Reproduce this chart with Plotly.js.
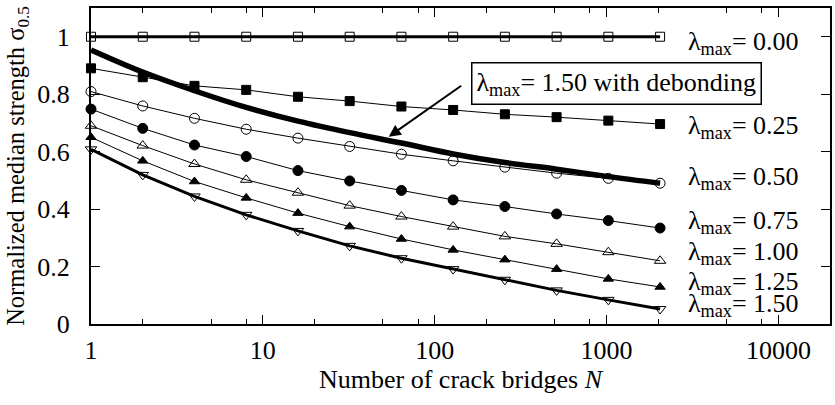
<!DOCTYPE html>
<html>
<head>
<meta charset="utf-8">
<script src="https://cdn.plot.ly/plotly-3.0.1.min.js"></script>
<style>html,body{margin:0;padding:0;background:#fff;}#chart{width:835px;height:405px;}</style>
</head>
<body>
<div id="chart"></div>
<script>
var bridges = [1, 2, 4, 8, 16, 32, 64, 128, 256, 512, 1024, 2048];
var lam000 = [1, 1, 1, 1, 1, 1, 1, 1, 1, 1, 1, 1];
var lam025 = [0.890, 0.859, 0.829, 0.815, 0.791, 0.776, 0.757, 0.745, 0.730, 0.720, 0.708, 0.696];
var lam050 = [0.809, 0.759, 0.716, 0.678, 0.647, 0.618, 0.591, 0.568, 0.546, 0.525, 0.507, 0.490];
var lam075 = [0.748, 0.681, 0.623, 0.583, 0.534, 0.498, 0.465, 0.432, 0.409, 0.383, 0.360, 0.334];
var lam100 = [0.690, 0.621, 0.557, 0.502, 0.457, 0.412, 0.374, 0.339, 0.305, 0.279, 0.250, 0.220];
var lam125 = [0.650, 0.568, 0.496, 0.439, 0.386, 0.339, 0.296, 0.258, 0.224, 0.191, 0.157, 0.129];
var lam150 = [0.608, 0.519, 0.444, 0.380, 0.324, 0.272, 0.229, 0.191, 0.154, 0.117, 0.084, 0.052];
var debond150 = [0.954, 0.877, 0.812, 0.754, 0.706, 0.666, 0.630, 0.592, 0.562, 0.539, 0.513, 0.490];
var labelText = ["0.00", "0.25", "0.50", "0.75", "1.00", "1.25", "1.50"];
var labelY = [0.978, 0.687, 0.509, 0.356, 0.248, 0.144, 0.067];
var xTicks = [1, 10, 100, 1000, 10000];
var yTicks = [0, 0.2, 0.4, 0.6, 0.8, 1];

var FONT = "'Liberation Serif', 'Times New Roman', serif";
var FS = 26;
var NONE = "rgba(0,0,0,0)";

function series(y, sym, fill, lw, msize) {
  return {
    x: bridges, y: y, type: "scatter", mode: "lines+markers",
    line: {color: "#000", width: lw},
    marker: {symbol: sym, size: msize, color: fill, line: {color: "#000", width: 1}},
    showlegend: false, cliponaxis: false
  };
}

var traces = [
  series(lam000, "square", NONE, 3, 9),
  series(lam025, "square", "#000", 1, 9),
  series(lam050, "circle", NONE, 1, 10),
  series(lam075, "circle", "#000", 1, 10),
  series(lam100, "triangle-up", NONE, 1, 10),
  series(lam125, "triangle-up", "#000", 1, 9),
  series(lam150, "triangle-down", NONE, 3, 10),
  {x: bridges, y: debond150, type: "scatter", mode: "lines", line: {color: "#000", width: 5.5, shape: "spline"}, showlegend: false}
];

var annotations = labelText.map(function (t, i) {
  return {
    xref: "x", yref: "y", x: Math.log10(2900), y: labelY[i],
    xanchor: "left", yanchor: "middle", showarrow: false,
    text: "λ<sub>max</sub>= " + t,
    font: {family: FONT, size: FS, color: "#000"}
  };
});

annotations.push({
  xref: "x", yref: "y", x: Math.log10(54), y: 0.652,
  ax: 74, ay: -52, axref: "pixel", ayref: "pixel",
  text: "", showarrow: true, arrowhead: 2, arrowsize: 1.2, arrowwidth: 2, arrowcolor: "#000"
});
annotations.push({
  xref: "paper", yref: "paper", x: (616 - 91) / 739, y: (324 - 83) / 316,
  xanchor: "center", yanchor: "middle", showarrow: false,
  text: "λ<sub>max</sub>= 1.50 with debonding",
  font: {family: FONT, size: FS, color: "#000"},
  bgcolor: "#fff", bordercolor: "#000", borderwidth: 1.5, borderpad: 4
});

var layout = {
  width: 835, height: 405,
  margin: {l: 91, r: 5, t: 8, b: 81},
  paper_bgcolor: "#fff", plot_bgcolor: "#fff",
  font: {family: FONT, size: FS, color: "#000"},
  xaxis: {
    type: "log", range: [0, 4.3],
    tickmode: "array", tickvals: xTicks, ticktext: ["1", "10", "100", "1000", "10000"],
    ticks: "inside", ticklen: 9, tickwidth: 1, tickcolor: "#000",
    minor: {tickmode: "array", tickvals: [2, 5, 8, 20, 50, 80, 200, 500, 800, 2000, 5000, 8000], ticks: "inside", ticklen: 5, tickwidth: 1, tickcolor: "#000"},
    showline: true, linewidth: 2, linecolor: "#000", mirror: "ticks",
    showgrid: false, zeroline: false,
    tickfont: {family: FONT, size: FS},
    ticklabelstandoff: 2,
    title: {text: "Number of crack bridges <i>N</i>", font: {family: FONT, size: FS}, standoff: 2}
  },
  yaxis: {
    range: [0, 1.1],
    tickmode: "array", tickvals: yTicks, ticktext: ["0", "0.2", "0.4", "0.6", "0.8", "1"],
    ticks: "inside", ticklen: 9, tickwidth: 1, tickcolor: "#000",
    showline: true, linewidth: 2, linecolor: "#000", mirror: "ticks",
    showgrid: false, zeroline: false,
    tickfont: {family: FONT, size: FS},
    ticklabelstandoff: 14,
    title: {text: "Normalized median strength σ<sub>0.5</sub>", font: {family: FONT, size: 24.5}, standoff: 6}
  },
  annotations: annotations
};

Plotly.newPlot("chart", traces, layout, {displayModeBar: false, staticPlot: true});
</script>
</body>
</html>
